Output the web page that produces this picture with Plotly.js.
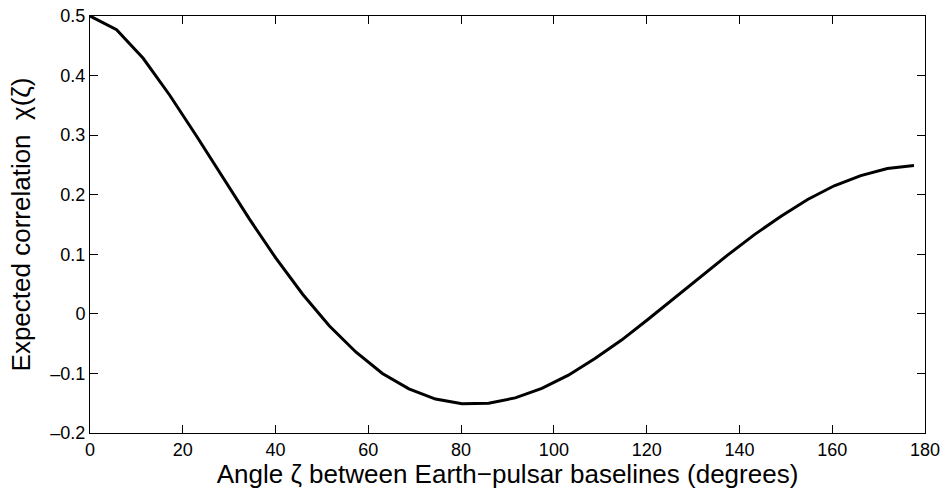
<!DOCTYPE html>
<html>
<head>
<meta charset="utf-8">
<script src="https://cdn.plot.ly/plotly-3.0.1.min.js"></script>
<style>html,body{margin:0;padding:0;background:#fff;}#chart{width:943px;height:489px;}</style>
</head>
<body>
<div id="chart"></div>
<script>
// Angle between Earth-pulsar baselines (degrees)
const angleDeg = [0, 5.73, 11.46, 17.19, 22.92, 28.65, 34.38, 40.11, 45.84, 51.57,
  57.30, 63.03, 68.75, 74.48, 80.21, 85.94, 91.67, 97.40, 103.13, 108.86,
  114.59, 120.32, 126.05, 131.78, 137.51, 143.24, 148.97, 154.70, 160.43, 166.16,
  171.89, 177.62];
// Expected correlation chi(zeta)
const correlation = [0.500, 0.477, 0.429, 0.367, 0.299, 0.228, 0.159, 0.093, 0.033, -0.020,
  -0.064, -0.100, -0.126, -0.143, -0.151, -0.150, -0.141, -0.125, -0.103, -0.075,
  -0.044, -0.009, 0.027, 0.064, 0.099, 0.133, 0.164, 0.192, 0.215, 0.232,
  0.244, 0.249];
const xTickVals = [0, 20, 40, 60, 80, 100, 120, 140, 160, 180];
const xTickText = ["0", "20", "40", "60", "80", "100", "120", "140", "160", "180"];
const yTickVals = [-0.2, -0.1, 0, 0.1, 0.2, 0.3, 0.4, 0.5];
const yTickText = ["\u20130.2", "\u20130.1", "0", "0.1", "0.2", "0.3", "0.4", "0.5"];

const font = "Liberation Sans, Arial, Helvetica, sans-serif";
const trace = {
  x: angleDeg, y: correlation, type: "scatter", mode: "lines",
  line: {color: "#000", width: 3}, hoverinfo: "skip"
};
const axisCommon = {
  showgrid: false, zeroline: false, showline: true, linecolor: "#000", linewidth: 1,
  mirror: "ticks", ticks: "inside", ticklen: 8, tickcolor: "#000", tickwidth: 1,
  tickfont: {family: font, size: 18, color: "#000"}, tickmode: "array", automargin: false
};
const layout = {
  width: 943, height: 489,
  margin: {l: 90, r: 18, t: 16, b: 56},
  paper_bgcolor: "#fff", plot_bgcolor: "#fff",
  showlegend: false,
  xaxis: Object.assign({}, axisCommon, {
    range: [0, 180], tickvals: xTickVals, ticktext: xTickText,
    title: {text: "Angle \u03b6 between Earth\u2212pulsar baselines (degrees)", font: {family: font, size: 26, color: "#000"}, standoff: 0}
  }),
  yaxis: Object.assign({}, axisCommon, {
    range: [-0.2, 0.5], tickvals: yTickVals, ticktext: yTickText,
    title: {text: "Expected correlation\u00a0\u00a0\u03c7(\u03b6)", font: {family: font, size: 26, color: "#000"}, standoff: 12}
  })
};
Plotly.newPlot("chart", [trace], layout, {staticPlot: true, displayModeBar: false});
</script>
</body>
</html>
